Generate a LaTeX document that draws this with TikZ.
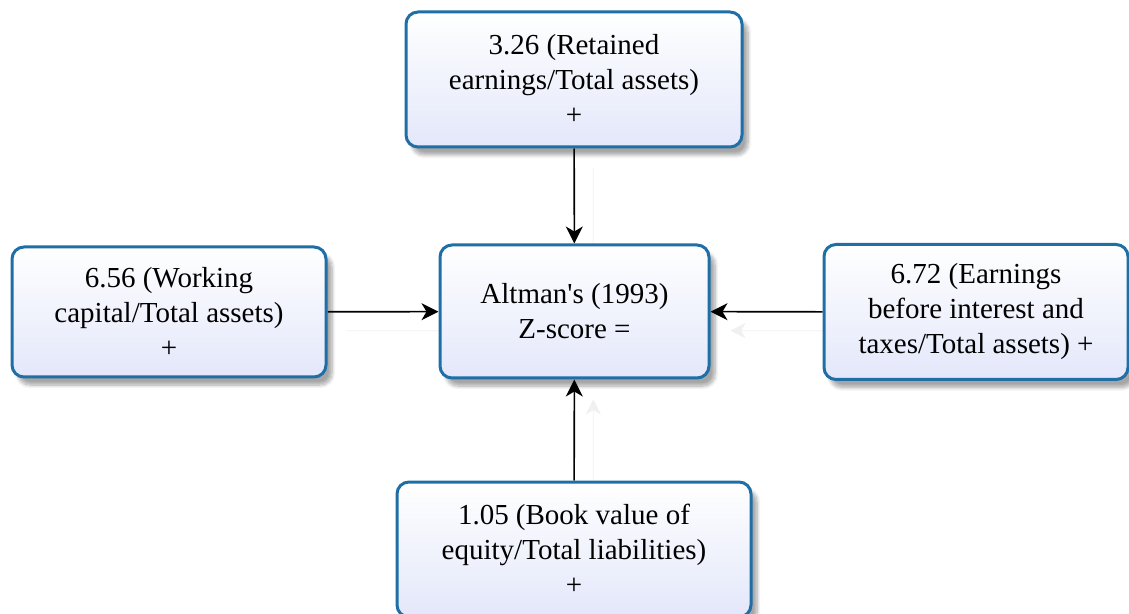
\documentclass[tikz,border=0pt]{standalone}
\usepackage{fontspec}
\setmainfont{Liberation Serif}[Ligatures=TeXOff]
\usepackage{tikz}
\usetikzlibrary{arrows.meta}
\usetikzlibrary{shadows.blur}
\usetikzlibrary{backgrounds}

\definecolor{borda}{HTML}{1F6FA6}
\definecolor{fundo}{HTML}{E3E7FA}

\tikzset{
  caixa/.style={draw=borda, line width=1.5pt, rounded corners=6pt,
    top color=white, bottom color=fundo, align=center,
    font=\fontsize{14.5}{17.5}\selectfont, inner sep=0pt,
    blur shadow={shadow xshift=3pt, shadow yshift=-4pt, shadow blur steps=8, shadow opacity=35}},
  seta/.style={-{Stealth[length=8.5pt,width=8.5pt,inset=2.5pt]}, line width=0.8pt,
    preaction={draw=black!6, transform canvas={shift={(9.5pt,-9.5pt)}}}}
}

\begin{document}
\begin{tikzpicture}[x=0.5pt,y=-0.5pt]

\useasboundingbox (0,0) rectangle (1129,614);

% caixas
\node[caixa, minimum width=168pt, minimum height=67.5pt] (topo) at (574,79.5)
  {3.26 (Retained\\ earnings/Total assets)\\ +};
\node[caixa, minimum width=157pt, minimum height=65pt] (esq) at (169,312)
  {6.56 (Working\\ capital/Total assets)\\ +};
\node[caixa, minimum width=134.5pt, minimum height=66.5pt] (centro) at (574.5,311.5)
  {Altman's (1993)\\ Z-score =};
\node[caixa, minimum width=152pt, minimum height=67.5pt] (dir) at (976,312)
  {6.72 (Earnings\\ before interest and\\ taxes/Total assets) +};
\node[caixa, minimum width=177pt, minimum height=67.5pt] (base) at (574,549.5)
  {1.05 (Book value of\\ equity/Total liabilities)\\ +};

% setas
\begin{scope}[on background layer]
\draw[seta] (topo) -- (centro);
\draw[seta] (esq) -- (centro);
\draw[seta] (dir) -- (centro);
\draw[seta] (base) -- (centro);
\end{scope}

\end{tikzpicture}
\end{document}
